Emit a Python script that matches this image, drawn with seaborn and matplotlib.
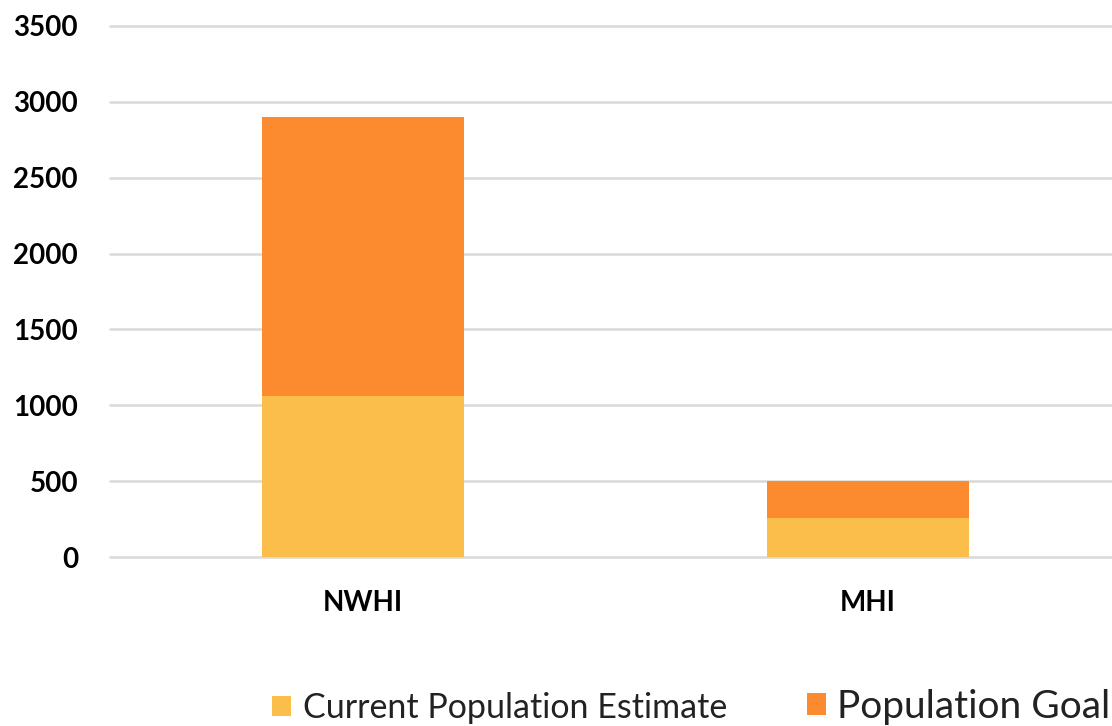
import matplotlib
matplotlib.use("Agg")
import matplotlib.pyplot as plt
import seaborn as sns
import pandas as pd
from matplotlib.patches import Patch

# Data
categories = ["NWHI", "MHI"]
population_goal = [2900, 500]
current_estimate = [1060, 260]
series_names = ["Current Population Estimate", "Population Goal"]
y_ticks = [0, 500, 1000, 1500, 2000, 2500, 3000, 3500]

COL_CUR = "#FBBE4A"
COL_GOAL = "#FC8B30"

sns.set_theme(style="white")
plt.rcParams['font.family'] = ['Lato', 'DejaVu Sans']

fig = plt.figure(figsize=(11.12, 7.26), dpi=100)
W, H = 1112, 726
ax = fig.add_axes([110 / W, (H - 557) / H, 1010 / W, (557 - 26) / H])

df = pd.DataFrame({"cat": categories, "goal": population_goal, "cur": current_estimate})
sns.barplot(data=df, x="cat", y="goal", color=COL_GOAL, width=0.4, saturation=1,
            linewidth=0, edgecolor="none", ax=ax, zorder=2)
sns.barplot(data=df, x="cat", y="cur", color=COL_CUR, width=0.4, saturation=1,
            linewidth=0, edgecolor="none", ax=ax, zorder=3)

ax.set_ylim(0, 3500)
ax.set_yticks(y_ticks)
ax.set_yticklabels([str(t) for t in y_ticks])
ax.grid(axis="y", color="#D9D9D9", linewidth=1.8, zorder=0)
ax.set_axisbelow(True)
for s in ax.spines.values():
    s.set_visible(False)
ax.set_xlabel("")
ax.set_ylabel("")
ax.tick_params(axis="y", length=0, pad=23, labelsize=20)
ax.tick_params(axis="x", length=0, pad=24, labelsize=20)
for lab in ax.get_yticklabels() + ax.get_xticklabels():
    lab.set_fontweight("bold")
    lab.set_color("black")
for gl in ax.get_ygridlines():
    gl.set_clip_on(False)

# Legend (two entries, different text sizes as in reference)
h1 = Patch(facecolor=COL_CUR, edgecolor="none")
h2 = Patch(facecolor=COL_GOAL, edgecolor="none")
leg1 = fig.legend([h1], [series_names[0]], loc="center left",
                  bbox_to_anchor=(272 / W, 1 - 708 / H), frameon=False,
                  fontsize=24.5, borderpad=0, borderaxespad=0,
                  handlelength=0.55, handleheight=0.55, handletextpad=0.35)
leg2 = fig.legend([h2], [series_names[1]], loc="center left",
                  bbox_to_anchor=(807 / W, 1 - 707 / H), frameon=False,
                  fontsize=28, borderpad=0, borderaxespad=0,
                  handlelength=0.48, handleheight=0.48, handletextpad=0.3)
for t in leg1.get_texts() + leg2.get_texts():
    t.set_color("#222222")

fig.savefig("out.png", dpi=100)
